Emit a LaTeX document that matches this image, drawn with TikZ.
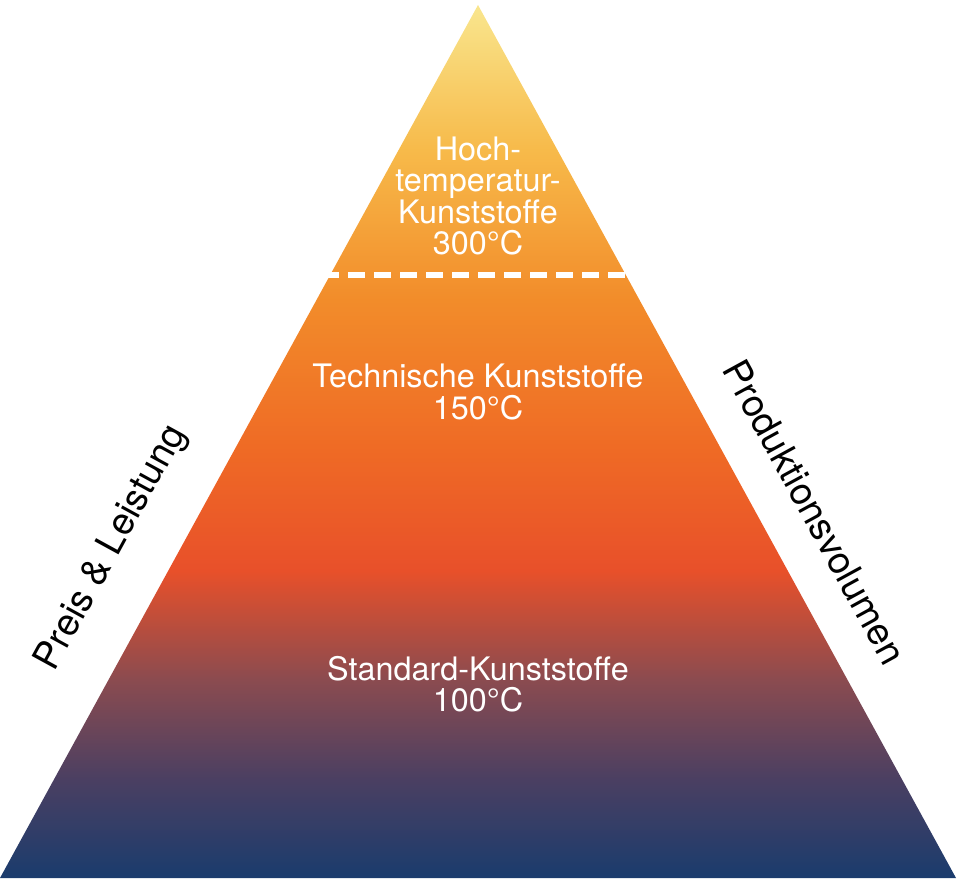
\documentclass[tikz,border=0pt]{standalone}
\usepackage{fontspec}
\setmainfont{TeX Gyre Heros}
\usetikzlibrary{positioning}
\definecolor{pyrtop}{RGB}{249,230,142}
\definecolor{pyryellow}{RGB}{247,186,74}
\definecolor{pyrorange}{RGB}{242,140,42}
\definecolor{pyrred}{RGB}{239,106,37}
\definecolor{pyrdeep}{RGB}{232,80,42}
\definecolor{pyrmauve}{RGB}{138,75,80}
\definecolor{pyrpurple}{RGB}{74,63,98}
\definecolor{pyrnavy}{RGB}{26,60,109}
\pgfdeclareverticalshading{pyramid}{100bp}{
  color(0bp)=(pyrnavy); color(25bp)=(pyrnavy); color(30.6bp)=(pyrpurple);
  color(36.3bp)=(pyrmauve); color(42.6bp)=(pyrdeep); color(49.5bp)=(pyrred);
  color(58.1bp)=(pyrorange); color(66.7bp)=(pyryellow); color(75bp)=(pyrtop);
  color(100bp)=(pyrtop)}
\tikzset{
  level/.style={text=white, align=center, font=\fontsize{9.2}{8.9}\selectfont},
  side/.style={text=black, font=\fontsize{10.7}{12}\selectfont}
}
\begin{document}
\begin{tikzpicture}[x=0.01cm, y=-0.01cm]
  \useasboundingbox (0,0) rectangle (958,882);
  % Pyramid
  \shade[shading=pyramid] (478,5) -- (956,878) -- (0,878) -- cycle;
  \coordinate (dashl) at (322,275);
  \coordinate (dashr) at (625,275);
  \draw[white, line width=1.6pt, dash pattern=on 4.8pt off 2.6pt] (dashl) -- (dashr);
  % Levels
  \node[level] (high) at (478,196) {Hoch-\\temperatur-\\Kunststoffe\\300°C};
  \node[level] (tech) at (478,392) {Technische Kunststoffe\\150°C};
  \node[level] (std) at (478,684) {Standard-Kunststoffe\\100°C};
  % Sides
  \node[side, rotate=61.3] (price) at (112,548) {Preis \& Leistung};
  \node[side, rotate=-61.3] (volume) at (815,512) {Produktionsvolumen};
\end{tikzpicture}
\end{document}
